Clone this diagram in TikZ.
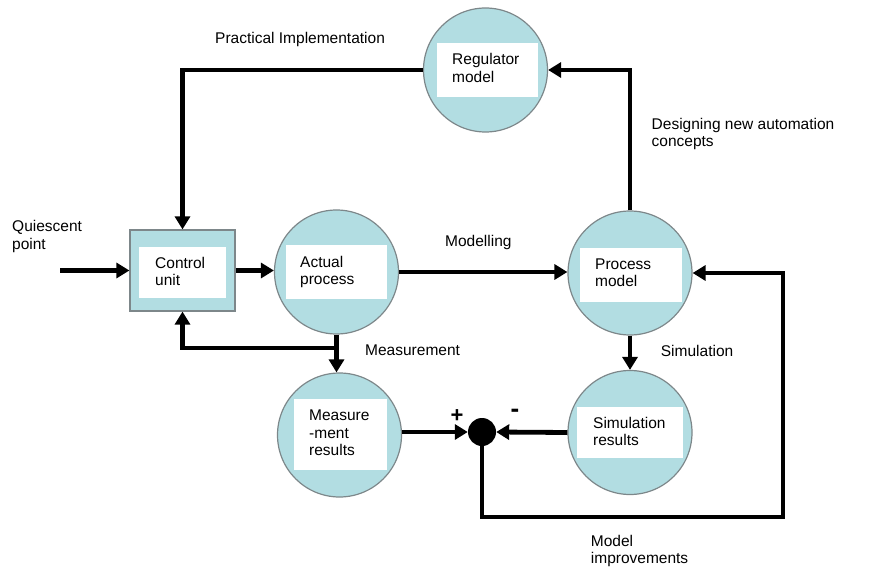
\documentclass[tikz,border=0pt]{standalone}
\usepackage{fontspec}
\setmainfont{Liberation Sans}
\usetikzlibrary{arrows.meta,calc}
\definecolor{procfill}{RGB}{178,221,226}
\definecolor{procedge}{RGB}{125,135,138}
\begin{document}
\begin{tikzpicture}[x=1pt,y=-1pt,
  proc/.style={circle, draw=procedge, line width=1.2pt, fill=procfill, minimum size=124pt, inner sep=0},
  ctrlbox/.style={rectangle, draw=procedge, line width=1.2pt, fill=procfill, minimum width=105pt, minimum height=81pt, inner sep=0},
  lbl/.style={anchor=base west, align=left, inner sep=0, font=\fontsize{15.5}{17.5}\selectfont},
  sign/.style={inner sep=0, font=\fontsize{22}{24}\selectfont\bfseries},
  flow/.style={line width=4.8pt, -{Triangle[length=13pt,width=15pt]}}]
\useasboundingbox (0,0) rectangle (872,577);
% nodes
\node[ctrlbox] (ctrl) at (182.5,270.5) {};
\node[proc] (act) at (336.5,272) {};
\node[proc] (reg) at (485.5,70) {};
\node[proc] (pm) at (630,273) {};
\node[proc] (meas) at (339.5,435) {};
\node[proc] (sim) at (630,432.5) {};
\node[circle, fill=black, minimum size=28pt, inner sep=0] (sum) at (482,432) {};
\coordinate (qin) at (60,270.5);
\coordinate (br) at (336.5,348);
\coordinate (loopc) at (783,517);
% white windows
\fill[white] (139,247) rectangle (226,298);
\fill[white] (286,245) rectangle (387,299);
\fill[white] (437,43) rectangle (538,97);
\fill[white] (580,248) rectangle (682,302);
\fill[white] (577,407) rectangle (683,458);
\fill[white] (294,399) rectangle (387,470);
% connectors
\draw[flow] (qin) -- (ctrl.west);
\draw[flow] (ctrl.east) -- (ctrl.east -| act.west);
\draw[flow] (act.east) -- (act.east -| pm.west);
\draw[flow] (reg.west) -| (ctrl.north);
\draw[flow] (pm.north) |- (reg.east);
\draw[flow] (act.south) -- (act.south |- meas.north);
\draw[flow] (br) -| (ctrl.south);
\draw[flow] (pm.south) -- (sim.north);
\draw[flow] (meas.east |- sum) -- (sum.west);
\draw[flow] (sim.west) -- (sum.east);
\draw[flow] (sum.south) |- (loopc) |- (pm.east);
% texts (base anchor = baseline of the last line)
\node[lbl] (tctrl) at (155,285.8) {Control\\unit};
\node[lbl] (tact) at (300,284.8) {Actual\\process};
\node[lbl] (treg) at (452,82.5) {Regulator\\model};
\node[lbl] (tpm) at (595,286.8) {Process\\model};
\node[lbl] (tsim) at (593,445.8) {Simulation\\results};
\node[lbl] (tmeas) at (309,455.7) {Measure\\-ment\\results};
\node[lbl] (lpi) at (215,43.3) {Practical Implementation};
\node[lbl] (ldes) at (651.5,147) {Designing new automation\\concepts};
\node[lbl] (lmod) at (445,246.7) {Modelling};
\node[lbl] (lmeas) at (365,355.7) {Measurement};
\node[lbl] (lsim) at (660.7,356.7) {Simulation};
\node[lbl] (limp) at (590.7,563.5) {Model\\improvements};
\node[lbl] (lq) at (12,249.2) {Quiescent\\point};
\node[sign] (plus) at (457,416.5) {+};
\node[sign, font=\fontsize{26}{28}\selectfont\bfseries] (minus) at (515,413) {-};
\end{tikzpicture}
\end{document}
